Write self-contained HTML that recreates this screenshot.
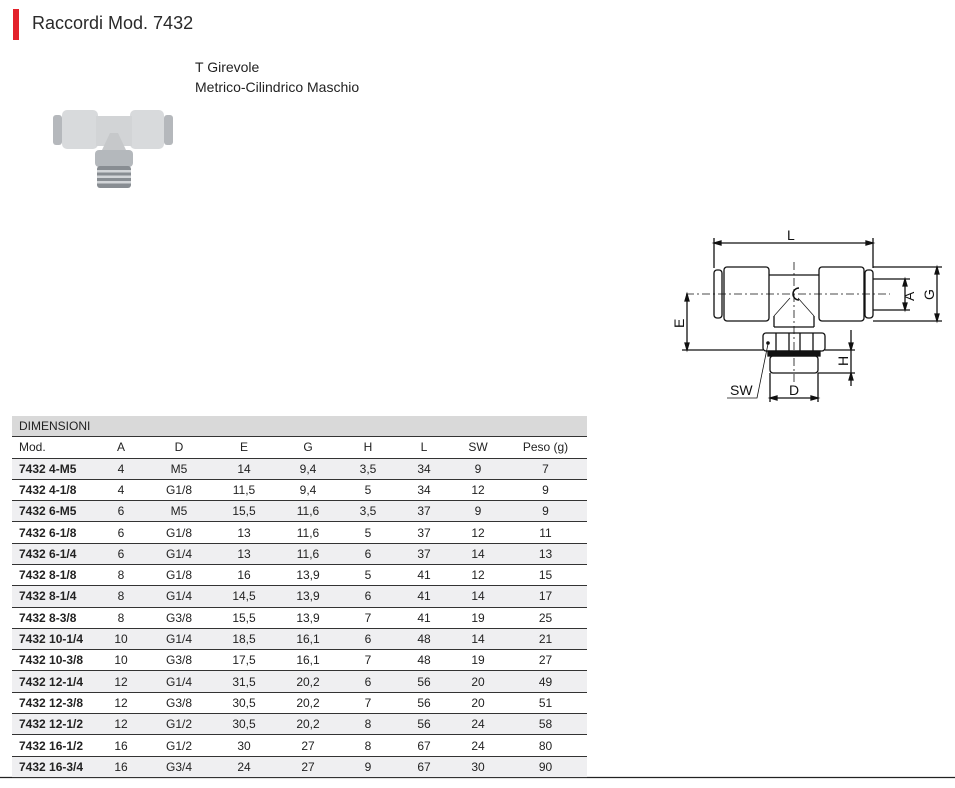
<!DOCTYPE html>
<html><head><meta charset="utf-8"><style>
body{margin:0;width:955px;height:788px;background:#fff;font-family:"Liberation Sans",sans-serif;position:relative;overflow:hidden;color:#222}
.t{position:absolute}
table{position:absolute;left:12px;top:437px;width:575px;border-collapse:collapse;table-layout:fixed;font-size:12px}
td{height:20.3px;padding:0;text-align:center;border-bottom:1.3px solid #333;line-height:20px;overflow:hidden;white-space:nowrap}
td:first-child{text-align:left;padding-left:7px;font-weight:bold}
tr.g td{background:#efeff1}
tr.h2 td{font-weight:normal;height:20.5px}
</style></head><body>
<div class="t" style="left:13px;top:9px;width:6px;height:31px;background:#e3222b"></div>
<div class="t" style="left:32px;top:13px;font-size:18px;color:#2a2a2a">Raccordi Mod. 7432</div>
<div class="t" style="left:195px;top:57px;font-size:14px;line-height:20px">T Girevole<br>Metrico-Cilindrico Maschio</div>
<div class="t" style="left:12px;top:416px;width:575px;height:20px;background:#d9d9d9;border-bottom:1.3px solid #333;font-size:12px;line-height:20px"><span style="padding-left:7px">DIMENSIONI</span></div>
<svg class="t" style="left:0;top:0" width="955" height="788">
<g>
<rect x="53" y="115" width="9" height="30" rx="3" fill="#b5b8bc"/>
<rect x="164" y="115" width="9" height="30" rx="3" fill="#b5b8bc"/>
<rect x="62" y="110" width="36" height="39" rx="5" fill="#d8dadc"/>
<rect x="130" y="110" width="34" height="39" rx="5" fill="#d8dadc"/>
<rect x="96" y="116" width="36" height="30" fill="#d2d4d6"/>
<polygon points="102,150 126,150 118,133 110,133" fill="#c6c8ca"/>
<rect x="95" y="150" width="38" height="17" rx="4" fill="#b4b8bc"/>
<rect x="97" y="166" width="34" height="22" rx="3" fill="#888d92"/>
<rect x="97" y="170" width="34" height="2.5" fill="#d2d5d8"/><rect x="97" y="175.5" width="34" height="2.5" fill="#d2d5d8"/><rect x="97" y="181" width="34" height="2.5" fill="#d2d5d8"/>
</g>
<g stroke="#111" fill="none" stroke-width="1.3">
<line x1="714" y1="243" x2="873" y2="243"/><polygon points="714,243 721,241 721,245" fill="#111"/><polygon points="873,243 866,241 866,245" fill="#111"/>
<line x1="714" y1="238" x2="714" y2="268"/><line x1="873" y1="238" x2="873" y2="268"/>
<rect x="714" y="270" width="8" height="48" rx="3"/>
<rect x="865" y="270" width="8" height="48" rx="3"/>
<rect x="724" y="267" width="45" height="54" rx="3"/>
<rect x="819" y="267" width="45" height="54" rx="3"/>
<line x1="769" y1="275" x2="819" y2="275"/>
<line x1="774" y1="316" x2="774" y2="327"/><line x1="814" y1="316" x2="814" y2="327"/>
<line x1="774" y1="327" x2="814" y2="327"/>
<rect x="763" y="333" width="62" height="18" rx="3"/>
<line x1="776" y1="333" x2="776" y2="351"/><line x1="789" y1="333" x2="789" y2="351"/><line x1="800" y1="333" x2="800" y2="351"/><line x1="813" y1="333" x2="813" y2="351"/>
<rect x="768" y="351" width="52" height="5" fill="#111"/>
<rect x="770" y="356" width="48" height="17" rx="3"/>
<line x1="794" y1="262" x2="794" y2="382" stroke-dasharray="8,3,2,3" stroke-width="0.8"/>
<line x1="686" y1="294" x2="890" y2="294" stroke-dasharray="8,3,2,3" stroke-width="0.8"/>
<path d="M799,288 A6,6 0 1,0 799,300" stroke-width="1.5"/>
<line x1="790" y1="298" x2="774" y2="316" stroke-width="0.7"/><line x1="798" y1="298" x2="814" y2="316" stroke-width="0.7"/>
<line x1="873" y1="267" x2="942" y2="267"/><line x1="873" y1="321" x2="942" y2="321"/>
<line x1="937" y1="267" x2="937" y2="321"/><polygon points="937,267 935,274 939,274" fill="#111"/><polygon points="937,321 935,314 939,314" fill="#111"/>
<line x1="873" y1="279" x2="910" y2="279"/><line x1="873" y1="310" x2="910" y2="310"/>
<line x1="905" y1="279" x2="905" y2="310"/><polygon points="905,279 903,286 907,286" fill="#111"/><polygon points="905,310 903,303 907,303" fill="#111"/>
<line x1="682" y1="350" x2="763" y2="350"/>
<line x1="687" y1="294" x2="687" y2="350"/><polygon points="687,294 685,301 689,301" fill="#111"/><polygon points="687,350 685,343 689,343" fill="#111"/>
<line x1="818" y1="373" x2="855" y2="373"/><line x1="825" y1="350" x2="855" y2="350"/>
<line x1="851" y1="330" x2="851" y2="386"/><polygon points="851,350 849,343 853,343" fill="#111"/><polygon points="851,373 849,380 853,380" fill="#111"/>
<line x1="770" y1="373" x2="770" y2="402"/><line x1="818" y1="373" x2="818" y2="402"/>
<line x1="770" y1="398" x2="818" y2="398"/><polygon points="770,398 777,396 777,400" fill="#111"/><polygon points="818,398 811,396 811,400" fill="#111"/>
<polyline points="727,398 757,398 768,344" stroke-width="0.8"/>
</g>
<circle cx="768" cy="343" r="1.8" fill="#111"/>
<g font-family="Liberation Sans,sans-serif" font-size="14" fill="#111">
<text x="787" y="240">L</text>
<text x="730" y="395">SW</text>
<text x="789" y="395">D</text>
<text transform="translate(914,301) rotate(-90)">A</text>
<text transform="translate(934,300) rotate(-90)">G</text>
<text transform="translate(684,328) rotate(-90)">E</text>
<text transform="translate(848,366) rotate(-90)">H</text>
</g>
<line x1="0" y1="777.5" x2="955" y2="777.5" stroke="#222" stroke-width="1.3"/>
</svg>
<table>
<colgroup><col style="width:84px"><col style="width:50px"><col style="width:66px"><col style="width:64px"><col style="width:64px"><col style="width:56px"><col style="width:56px"><col style="width:52px"><col style="width:83px"></colgroup>
<tr class="h2"><td style="font-weight:normal">Mod.</td><td>A</td><td>D</td><td>E</td><td>G</td><td>H</td><td>L</td><td>SW</td><td>Peso (g)</td></tr>
<tr class="g"><td>7432 4-M5</td><td>4</td><td>M5</td><td>14</td><td>9,4</td><td>3,5</td><td>34</td><td>9</td><td>7</td></tr>
<tr><td>7432 4-1/8</td><td>4</td><td>G1/8</td><td>11,5</td><td>9,4</td><td>5</td><td>34</td><td>12</td><td>9</td></tr>
<tr class="g"><td>7432 6-M5</td><td>6</td><td>M5</td><td>15,5</td><td>11,6</td><td>3,5</td><td>37</td><td>9</td><td>9</td></tr>
<tr><td>7432 6-1/8</td><td>6</td><td>G1/8</td><td>13</td><td>11,6</td><td>5</td><td>37</td><td>12</td><td>11</td></tr>
<tr class="g"><td>7432 6-1/4</td><td>6</td><td>G1/4</td><td>13</td><td>11,6</td><td>6</td><td>37</td><td>14</td><td>13</td></tr>
<tr><td>7432 8-1/8</td><td>8</td><td>G1/8</td><td>16</td><td>13,9</td><td>5</td><td>41</td><td>12</td><td>15</td></tr>
<tr class="g"><td>7432 8-1/4</td><td>8</td><td>G1/4</td><td>14,5</td><td>13,9</td><td>6</td><td>41</td><td>14</td><td>17</td></tr>
<tr><td>7432 8-3/8</td><td>8</td><td>G3/8</td><td>15,5</td><td>13,9</td><td>7</td><td>41</td><td>19</td><td>25</td></tr>
<tr class="g"><td>7432 10-1/4</td><td>10</td><td>G1/4</td><td>18,5</td><td>16,1</td><td>6</td><td>48</td><td>14</td><td>21</td></tr>
<tr><td>7432 10-3/8</td><td>10</td><td>G3/8</td><td>17,5</td><td>16,1</td><td>7</td><td>48</td><td>19</td><td>27</td></tr>
<tr class="g"><td>7432 12-1/4</td><td>12</td><td>G1/4</td><td>31,5</td><td>20,2</td><td>6</td><td>56</td><td>20</td><td>49</td></tr>
<tr><td>7432 12-3/8</td><td>12</td><td>G3/8</td><td>30,5</td><td>20,2</td><td>7</td><td>56</td><td>20</td><td>51</td></tr>
<tr class="g"><td>7432 12-1/2</td><td>12</td><td>G1/2</td><td>30,5</td><td>20,2</td><td>8</td><td>56</td><td>24</td><td>58</td></tr>
<tr><td>7432 16-1/2</td><td>16</td><td>G1/2</td><td>30</td><td>27</td><td>8</td><td>67</td><td>24</td><td>80</td></tr>
<tr class="g"><td>7432 16-3/4</td><td>16</td><td>G3/4</td><td>24</td><td>27</td><td>9</td><td>67</td><td>30</td><td>90</td></tr>
</table>
</body></html>
